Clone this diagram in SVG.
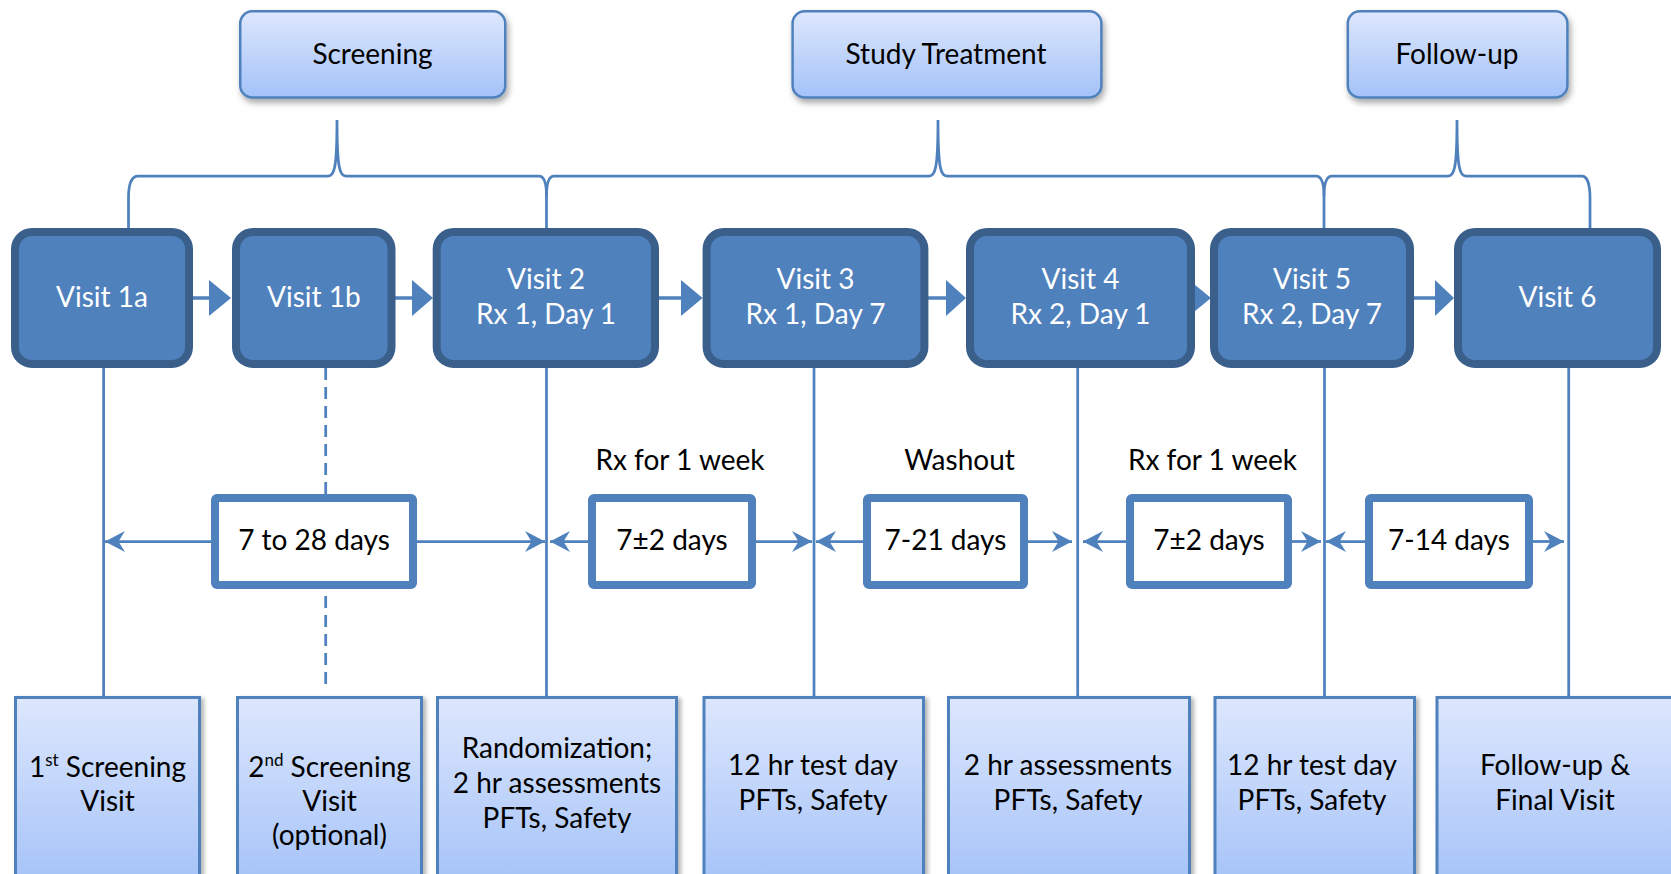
<svg xmlns="http://www.w3.org/2000/svg" width="1671" height="874" viewBox="0 0 1671 874">
<defs>
  <linearGradient id="lg" x1="0" y1="0" x2="0" y2="1">
    <stop offset="0" stop-color="#DDE7FD"/>
    <stop offset="1" stop-color="#A4C2F8"/>
  </linearGradient>
  <filter id="sh" x="-10%" y="-10%" width="130%" height="140%">
    <feDropShadow dx="2" dy="4" stdDeviation="3" flood-color="#000" flood-opacity="0.35"/>
  </filter>
  <filter id="sh2" x="-10%" y="-10%" width="130%" height="130%">
    <feDropShadow dx="3" dy="2" stdDeviation="2" flood-color="#000" flood-opacity="0.3"/>
  </filter>
  <marker id="ah" viewBox="0 0 20 21" markerWidth="20" markerHeight="21" refX="20" refY="10.5" orient="auto" markerUnits="userSpaceOnUse">
    <path d="M0,0 L20,10.5 L0,21 L6.5,10.5 Z" fill="#4F81BD"/>
  </marker>
</defs>
<style>
  text { font-family: Lato, "Liberation Sans", Arial, sans-serif; font-size: 28px; text-anchor: middle; fill: #000; }
  .hdr rect { fill: url(#lg); stroke: #4F81BD; stroke-width: 2.5; filter: url(#sh); }
  .visit rect { fill: #4F81BD; stroke: #3A5F8B; stroke-width: 8; }
  .visit text { fill: #fff; }
  .dur rect { fill: #fff; stroke: #4F81BD; stroke-width: 8; }
  .bot rect { fill: url(#lg); stroke: #4F81BD; stroke-width: 3; filter: url(#sh2); }
  .ln { stroke: #4F81BD; stroke-width: 2.75; fill: none; }
  .ar { stroke: #4F81BD; stroke-width: 2.75; fill: none; marker-end: url(#ah); }
  .tri { fill: #4F81BD; }
  .vl { stroke: #4F81BD; stroke-width: 3.5; }
</style>

<g id="connectors">
  <!-- braces -->
  <path class="ln" d="M128.5,228 L128.5,198 C128.5,184 131,176 138,176 L328,176 C334,176 337,170 337,120 C337,170 340,176 346,176 L539,176 C544,176 546.5,182 546.5,196 L546.5,228"/>
  <path class="ln" d="M546.5,196 C546.5,182 549,176 554,176 L929,176 C935,176 938,170 938,120 C938,170 941,176 947,176 L1316,176 C1321,176 1324,182 1324,196 L1324,228"/>
  <path class="ln" d="M1324,196 C1324,182 1327,176 1332,176 L1448,176 C1454,176 1457,170 1457,120 C1457,170 1460,176 1466,176 L1582,176 C1587,176 1590,184 1590,198 L1590,228"/>
  <!-- visit to visit arrows -->
  <line class="vl" x1="193" y1="298" x2="211" y2="298"/>
  <polygon class="tri" points="209,280 231,298 209,316"/>
  <line class="vl" x1="395" y1="298" x2="414" y2="298"/>
  <polygon class="tri" points="412,280 433,298 412,316"/>
  <line class="vl" x1="659" y1="298" x2="683" y2="298"/>
  <polygon class="tri" points="681,280 702.6,298 681,316"/>
  <line class="vl" x1="928" y1="298" x2="948" y2="298"/>
  <polygon class="tri" points="946,280 966,298 946,316"/>
  <polygon class="tri" points="1189,280 1211,298 1189,316"/>
  <line class="vl" x1="1414" y1="298" x2="1437" y2="298"/>
  <polygon class="tri" points="1435,280 1454,298 1435,316"/>
  <!-- vertical drop lines -->
  <line class="ln" x1="103.6" y1="366" x2="103.6" y2="697"/>
  <line class="ln" x1="325.7" y1="368" x2="325.7" y2="688" stroke-dasharray="12 7"/>
  <line class="ln" x1="546.5" y1="366" x2="546.5" y2="697"/>
  <line class="ln" x1="814" y1="366" x2="814" y2="697"/>
  <line class="ln" x1="1077.7" y1="366" x2="1077.7" y2="697"/>
  <line class="ln" x1="1324.5" y1="366" x2="1324.5" y2="697"/>
  <line class="ln" x1="1568.7" y1="366" x2="1568.7" y2="697"/>
  <!-- duration arrows -->
  <line class="ar" x1="211" y1="541.5" x2="105" y2="541.5"/>
  <line class="ar" x1="417" y1="541.5" x2="545" y2="541.5"/>
  <line class="ar" x1="588" y1="541.5" x2="550" y2="541.5"/>
  <line class="ar" x1="756" y1="541.5" x2="812" y2="541.5"/>
  <line class="ar" x1="863" y1="541.5" x2="816" y2="541.5"/>
  <line class="ar" x1="1028" y1="541.5" x2="1072" y2="541.5"/>
  <line class="ar" x1="1126" y1="541.5" x2="1083" y2="541.5"/>
  <line class="ar" x1="1292" y1="541.5" x2="1321" y2="541.5"/>
  <line class="ar" x1="1365" y1="541.5" x2="1326" y2="541.5"/>
  <line class="ar" x1="1533" y1="541.5" x2="1564" y2="541.5"/>
</g>

<g id="hdr-screening" class="hdr"><rect x="240.25" y="11.25" width="265" height="86.25" rx="12"/><text x="372.5" y="64">Screening</text></g>
<g id="hdr-treatment" class="hdr"><rect x="792.6" y="11.25" width="308.8" height="86.25" rx="12"/><text x="946" y="64">Study Treatment</text></g>
<g id="hdr-followup" class="hdr"><rect x="1347.8" y="11.25" width="219.6" height="86.25" rx="12"/><text x="1457" y="64">Follow-up</text></g>

<g id="visit1a" class="visit"><rect x="15" y="232" width="174" height="132" rx="17"/><text x="102" y="307">Visit 1a</text></g>
<g id="visit1b" class="visit"><rect x="236" y="232" width="155.5" height="132" rx="17"/><text x="313.8" y="307">Visit 1b</text></g>
<g id="visit2" class="visit"><rect x="436.7" y="232" width="218.3" height="132" rx="17"/><text x="546" y="289">Visit 2</text><text x="546" y="324">Rx 1, Day 1</text></g>
<g id="visit3" class="visit"><rect x="706.6" y="232" width="217.8" height="132" rx="17"/><text x="815.5" y="289">Visit 3</text><text x="815.5" y="324">Rx 1, Day 7</text></g>
<g id="visit4" class="visit"><rect x="970" y="232" width="221" height="132" rx="17"/><text x="1080.5" y="289">Visit 4</text><text x="1080.5" y="324">Rx 2, Day 1</text></g>
<g id="visit5" class="visit"><rect x="1214" y="232" width="196" height="132" rx="17"/><text x="1312" y="289">Visit 5</text><text x="1312" y="324">Rx 2, Day 7</text></g>
<g id="visit6" class="visit"><rect x="1458" y="232" width="199" height="132" rx="17"/><text x="1557.5" y="307">Visit 6</text></g>

<g id="lbl-rx1"><text x="680" y="470">Rx for 1 week</text></g>
<g id="lbl-washout"><text x="959.5" y="470">Washout</text></g>
<g id="lbl-rx2"><text x="1212.5" y="470">Rx for 1 week</text></g>

<g id="dur1" class="dur"><rect x="215" y="498" width="198" height="87" rx="2"/><text x="314" y="549.5">7 to 28 days</text></g>
<g id="dur2" class="dur"><rect x="592" y="498" width="160" height="87" rx="2"/><text x="672" y="549.5">7±2 days</text></g>
<g id="dur3" class="dur"><rect x="867" y="498" width="157" height="87" rx="2"/><text x="945.5" y="549.5">7-21 days</text></g>
<g id="dur4" class="dur"><rect x="1130" y="498" width="158" height="87" rx="2"/><text x="1209" y="549.5">7±2 days</text></g>
<g id="dur5" class="dur"><rect x="1369" y="498" width="160" height="87" rx="2"/><text x="1449" y="549.5">7-14 days</text></g>

<g id="bot1" class="bot"><rect x="15.5" y="697.5" width="184" height="190"/><text x="107.5" y="776.5">1<tspan font-size="17" dy="-11">st</tspan><tspan dy="11"> Screening</tspan></text><text x="107.5" y="811">Visit</text></g>
<g id="bot2" class="bot"><rect x="237.5" y="697.5" width="184" height="190"/><text x="329.5" y="776.5">2<tspan font-size="17" dy="-11">nd</tspan><tspan dy="11"> Screening</tspan></text><text x="329.5" y="811">Visit</text><text x="329.5" y="845">(optional)</text></g>
<g id="bot3" class="bot"><rect x="437.5" y="697.5" width="239" height="190"/><text x="557" y="758">Randomization;</text><text x="557" y="793">2 hr assessments</text><text x="557" y="828">PFTs, Safety</text></g>
<g id="bot4" class="bot"><rect x="704" y="697.5" width="219.5" height="190"/><text x="813" y="775">12 hr test day</text><text x="813" y="810">PFTs, Safety</text></g>
<g id="bot5" class="bot"><rect x="948.5" y="697.5" width="241" height="190"/><text x="1068" y="775">2 hr assessments</text><text x="1068" y="810">PFTs, Safety</text></g>
<g id="bot6" class="bot"><rect x="1215" y="697.5" width="199.5" height="190"/><text x="1312" y="775">12 hr test day</text><text x="1312" y="810">PFTs, Safety</text></g>
<g id="bot7" class="bot"><rect x="1437" y="697.5" width="245" height="190"/><text x="1555" y="775">Follow-up &amp;</text><text x="1555" y="810">Final Visit</text></g>
</svg>
